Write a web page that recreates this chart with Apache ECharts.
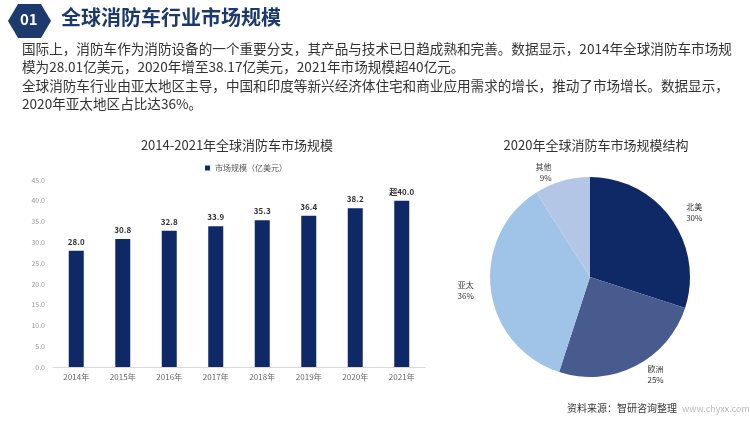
<!DOCTYPE html>
<html><head><meta charset="utf-8">
<script src="https://cdn.jsdelivr.net/npm/echarts@6/dist/echarts.min.js"></script>
<style>html,body{margin:0;padding:0;background:#fff}#c{width:750px;height:422px}</style>
</head><body><div id="c"></div>
<script>
var years = ['2014年','2015年','2016年','2017年','2018年','2019年','2020年','2021年'];
var marketSize = [28.0, 30.8, 32.8, 33.9, 35.3, 36.4, 38.2, 40.0];
var barLabels = ['28.0','30.8','32.8','33.9','35.3','36.4','38.2','超40.0'];
var regions = ['北美','欧洲','亚太','其他'];
var regionShare = [30, 25, 36, 9];
var regionColors = ['#0f2966','#475b8e','#9fc4e7','#b3c6e6'];

var FONT = '"Noto Sans CJK SC","Noto Sans",sans-serif';
var chart = echarts.init(document.getElementById('c'));
var para = [
 '国际上，消防车作为消防设备的一个重要分支，其产品与技术已日趋成熟和完善。数据显示，2014年全球消防车市场规',
 '模为28.01亿美元，2020年增至38.17亿美元，2021年市场规模超40亿元。',
 '全球消防车行业由亚太地区主导，中国和印度等新兴经济体住宅和商业应用需求的增长，推动了市场增长。数据显示，',
 '2020年亚太地区占比达36%。'
];
var graphics = [
 {type:'polygon', shape:{points:[[8,21],[18,4],[41,4],[51,21],[41,38],[18,38]]}, style:{fill:'#1d3a6e'}},
 {type:'text', left:20, top:12, style:{text:'01', fill:'#fff', font:'bold 15px '+FONT}},
 {type:'text', left:61, top:7, style:{text:'全球消防车行业市场规模', fill:'#1b3a6b', font:'bold 20px '+FONT}},
 {type:'text', left:567, top:403, style:{text:'资料来源：智研咨询整理', fill:'#333', font:'10px '+FONT}},
 {type:'text', left:682, top:404, style:{text:'www.chyxx.com', fill:'#bbb', font:'9px '+FONT}}
];
para.forEach(function(t,i){
 graphics.push({type:'text', left:22, top:42+i*18.3, style:{text:t, fill:'#333', font:'13.6px '+FONT}});
});

chart.setOption({
 animation:false,
 textStyle:{fontFamily:FONT},
 graphic:graphics,
 title:[
  {text:'2014-2021年全球消防车市场规模', left:232, top:134, textAlign:'center', textStyle:{fontSize:13, fontWeight:'normal', color:'#333', fontFamily:FONT}},
  {text:'2020年全球消防车市场规模结构', left:591, top:134, textAlign:'center', textStyle:{fontSize:13, fontWeight:'normal', color:'#333', fontFamily:FONT}}
 ],
 legend:{data:['市场规模（亿美元）'], left:200, top:159, itemWidth:5, itemHeight:5, icon:'rect', itemGap:4,
  textStyle:{fontSize:8, color:'#555', fontFamily:FONT}},
 grid:{left:53, right:325, top:180, bottom:55},
 xAxis:{type:'category', data:years, axisTick:{show:false},
  axisLine:{lineStyle:{color:'#d9d9d9'}},
  axisLabel:{fontSize:8, color:'#666', margin:6, interval:0}},
 yAxis:{type:'value', min:0, max:45, interval:5, splitLine:{show:false},
  axisLine:{show:false}, axisTick:{show:false},
  axisLabel:{fontSize:7, color:'#999', margin:8, formatter:function(v){return v.toFixed(1);}}},
 series:[
  {name:'市场规模（亿美元）', type:'bar', data:marketSize, barWidth:15,
   itemStyle:{color:'#0f2966'},
   label:{show:true, position:'top', fontSize:8, fontWeight:'bold', color:'#333',
    formatter:function(p){return barLabels[p.dataIndex];}}},
  {type:'pie', center:[590,277], radius:[0,100], startAngle:90, clockwise:true,
   data:regions.map(function(r,i){return {name:r, value:regionShare[i], itemStyle:{color:regionColors[i]}};}),
   label:{show:true, position:'outside', fontSize:8, color:'#333', lineHeight:11, align:'center',
    formatter:function(p){return p.name+'\n'+p.value+'%';}},
   labelLine:{show:false, length:9, length2:3}}
 ]
});
</script></body></html>
